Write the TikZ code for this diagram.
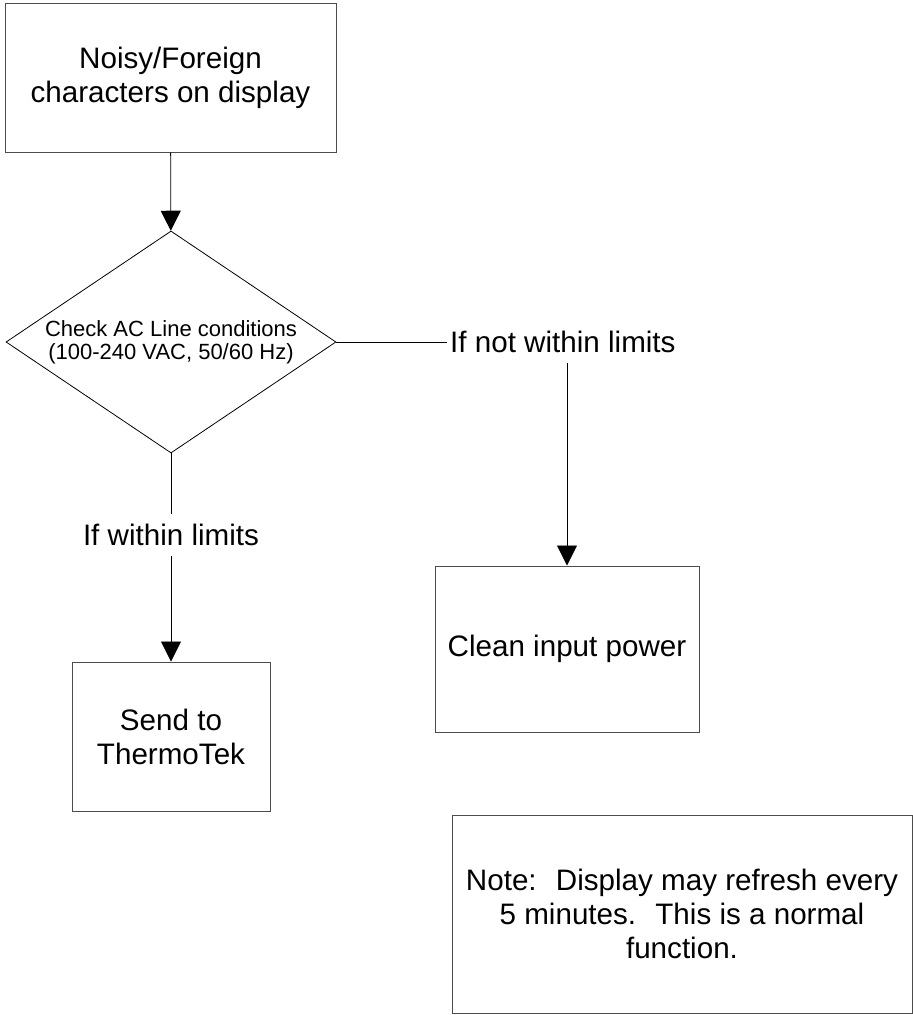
\documentclass[tikz,border=0pt]{standalone}
\usepackage{fontspec}
\setmainfont{Liberation Sans}
\usetikzlibrary{shapes.geometric, arrows.meta, positioning}

\begin{document}
\begin{tikzpicture}[
        x=1pt, y=-1pt,
        %Styles
        Box/.style={
            draw=black!70,
            line width=1pt,
            rectangle,
            align=center,
            font=\fontsize{29.6}{34}\selectfont,
        },
        Decision/.style={
            draw=black,
            line width=0.8pt,
            diamond,
            shape aspect=1.49,
            inner sep=0pt,
            minimum width=330pt, minimum height=222pt,
            align=center,
            font=\fontsize{22}{23}\selectfont,
        },
        Label/.style={
            font=\fontsize{29.6}{34}\selectfont,
            inner xsep=3pt, inner ysep=10pt,
        },
        Line/.style={draw=black, line width=0.8pt},
        Arrow/.style={Line, -{Triangle[width=20pt,length=20pt]}},
    ]

\useasboundingbox (0,0) rectangle (913,1015);

%boxes
\node[Box, minimum width=331pt, minimum height=149pt] (fault) at (170.5,77.5) {Noisy/Foreign\\characters on display};
\node[Decision] (check) at (171,342) {Check AC Line conditions\\(100-240 VAC, 50/60 Hz)};
\node[Label, anchor=west] (notok) at (447,342) {If not within limits};
\node[Box, minimum width=264pt, minimum height=166pt] (clean) at (567,649) {Clean input power};
\node[Label] (ok) at (171,535) {If within limits};
\node[Box, minimum width=198pt, minimum height=149pt] (send) at (171,736.5) {Send to\\ThermoTek};
\node[Box, minimum width=460pt, minimum height=198pt] (note) at (682,914) {Note:~ Display may refresh every\\5 minutes.~ This is a normal\\function.};

%connectors
\draw[Arrow] (fault) -- (check);
\draw[Line] (check.east) -- (notok.west);
\draw[Arrow] (notok.south -| clean.north) -- (clean.north);
\draw[Line] (check.south) -- (ok.north);
\draw[Arrow] (ok) -- (send);

\end{tikzpicture}
\end{document}
